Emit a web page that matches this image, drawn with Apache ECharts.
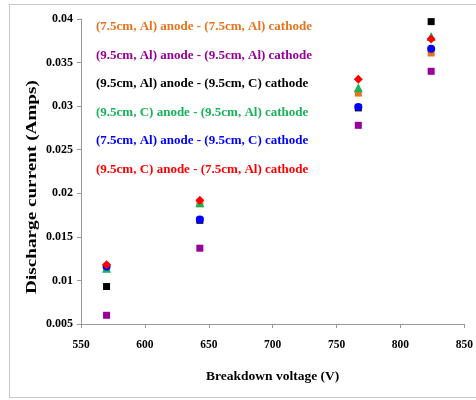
<!DOCTYPE html>
<html><head><meta charset="utf-8">
<script src="https://cdn.jsdelivr.net/npm/echarts@6/dist/echarts.min.js"></script>
<style>html,body{margin:0;padding:0;background:#fff}#c{width:476px;height:400px;position:relative}
#frame{position:absolute;left:9px;top:4px;width:480px;height:394px;border:1px solid #c8c8c8;box-sizing:border-box;pointer-events:none}</style>
</head><body><div id="c"></div><div id="frame"></div>
<script>
const seriesNames = [
  "(7.5cm, Al) anode - (7.5cm, Al) cathode",
  "(9.5cm, Al) anode - (9.5cm, Al) cathode",
  "(9.5cm, Al) anode - (9.5cm, C) cathode",
  "(9.5cm, C) anode - (9.5cm, Al) cathode",
  "(7.5cm, Al) anode - (9.5cm, C) cathode",
  "(9.5cm, C) anode - (7.5cm, Al) cathode"
];
const voltages = [570, 643, 767, 824];
const orangeVals = [0.0115, 0.0188, 0.0315, 0.0361];
const purpleVals = [0.0060, 0.0137, 0.0278, 0.0340];
const blackVals  = [0.0093, 0.0169, 0.0298, 0.0397];
const greenVals  = [0.0114, 0.0189, 0.0321, 0.0380];
const blueVals   = [0.0116, 0.0170, 0.0299, 0.0366];
const redVals    = [0.0118, 0.0192, 0.0331, 0.0377];
const yTicks = [0.005, 0.01, 0.015, 0.02, 0.025, 0.03, 0.035, 0.04];
const xTicks = [550, 600, 650, 700, 750, 800, 850];
const xTitle = 'Breakdown voltage (V)';
const yTitle = 'Discharge current (Amps)';

const colors = ["#E8731C", "#990099", "#000000", "#19B25A", "#0000FF", "#FF0000"];
const symbols = ["rect", "rect", "rect", "triangle", "circle", "diamond"];
const sizes = [7, 7, 7, 9, 8, 9];
const valueSets = [orangeVals, purpleVals, blackVals, greenVals, blueVals, redVals];

const font = "'Liberation Serif', 'Times New Roman', serif";
const chart = echarts.init(document.getElementById('c'));
chart.setOption({
  animation: false,
  grid: {left: 81, right: 10, top: 19, bottom: 76},
  legend: {
    orient: 'vertical', left: 86, top: 15, itemGap: 15, itemWidth: 0, itemHeight: 14,
    icon: 'none', selectedMode: false,
    textStyle: {fontFamily: font, fontWeight: 'bold', fontSize: 13, padding: [0,0,0,0]},
    data: seriesNames.map((n, i) => ({name: n, textStyle: {color: colors[i]}}))
  },
  graphic: [{
    type: 'text', x: 32, y: 187, rotation: Math.PI / 2, scaleX: 1.37,
    style: {text: yTitle, font: 'bold 14px ' + font, fill: '#000', align: 'center', verticalAlign: 'middle'}
  }],
  xAxis: {
    type: 'value', min: xTicks[0], max: xTicks[xTicks.length-1], interval: 50,
    splitLine: {show: false},
    axisLine: {lineStyle: {color: '#999'}},
    axisTick: {lineStyle: {color: '#999'}, length: 4},
    axisLabel: {fontFamily: font, fontWeight: 'bold', fontSize: 11.5, color: '#000', margin: 15},
    name: xTitle, nameLocation: 'middle', nameGap: 46,
    nameTextStyle: {fontFamily: font, fontWeight: 'bold', fontSize: 13.5, color: '#000'}
  },
  yAxis: {
    type: 'value', min: yTicks[0], max: yTicks[yTicks.length-1], interval: 0.005,
    splitLine: {show: false},
    axisLine: {show: true, lineStyle: {color: '#999'}},
    axisTick: {show: true, lineStyle: {color: '#999'}, length: 4},
    axisLabel: {fontFamily: font, fontWeight: 'bold', fontSize: 12, color: '#000', margin: 8,
      formatter: v => String(+v.toFixed(3))}
  },
  series: seriesNames.map((n, i) => ({
    name: n, type: 'scatter', symbol: symbols[i], symbolSize: sizes[i],
    itemStyle: {color: colors[i], opacity: 1},
    data: voltages.map((v, j) => [v, valueSets[i][j]])
  }))
});
</script></body></html>
